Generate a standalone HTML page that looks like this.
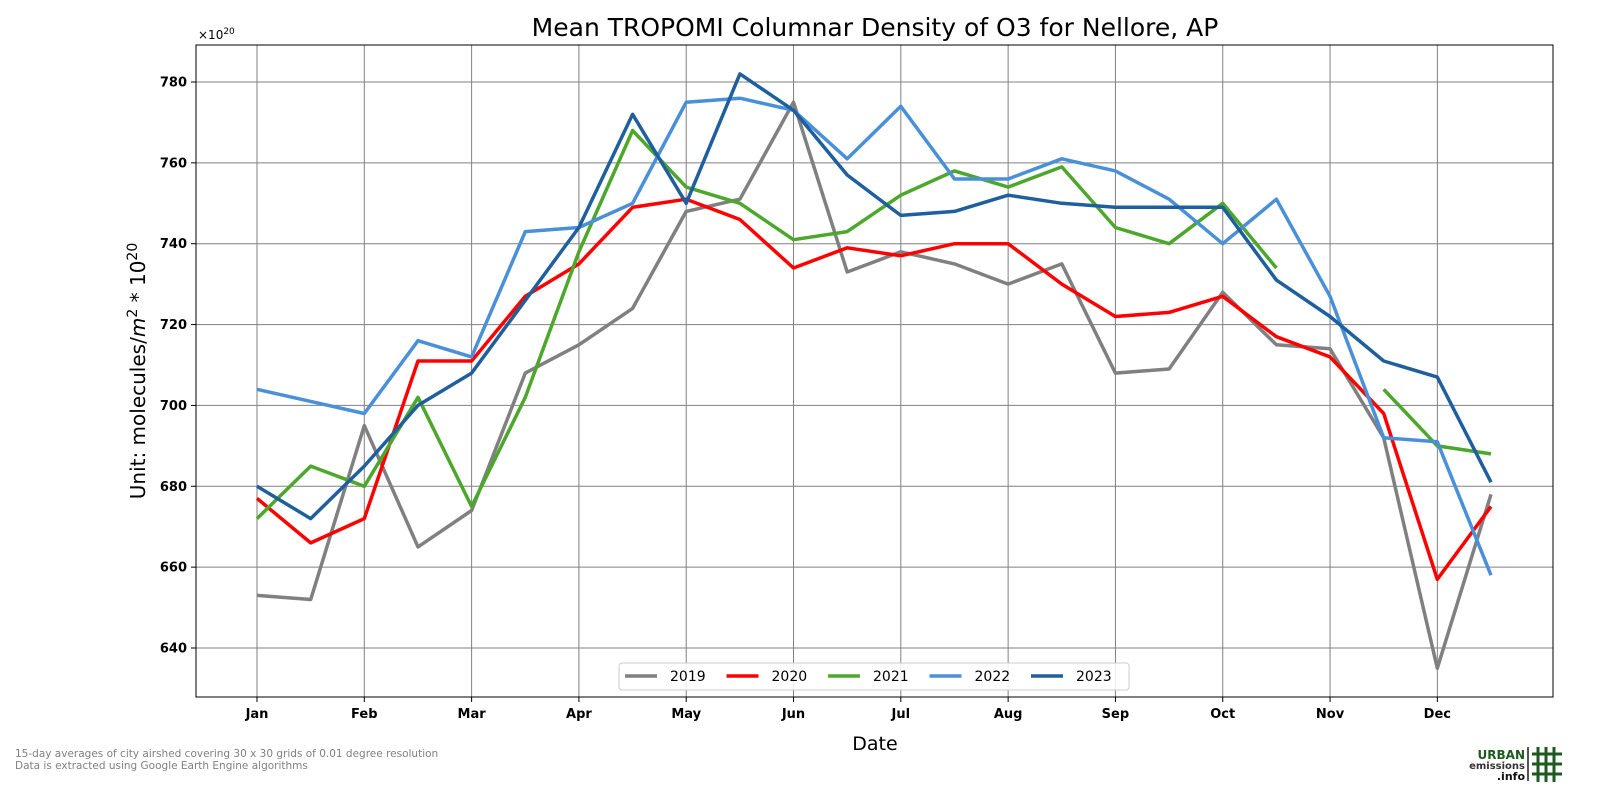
<!DOCTYPE html>
<html><head><meta charset="utf-8"><style>
body{margin:0;background:#fff;width:1600px;height:800px;overflow:hidden;font-family:"Liberation Sans","DejaVu Sans",sans-serif}
</style></head><body>
<svg id="c" width="1600" height="800" xmlns="http://www.w3.org/2000/svg" font-family="DejaVu Sans, Liberation Sans, sans-serif">
<text x="875" y="36" font-size="25" text-anchor="middle">Mean TROPOMI Columnar Density of O3 for Nellore, AP</text>
<text x="198" y="39" font-size="12">×10<tspan dy="-5" font-size="9">20</tspan></text>
<text transform="translate(145,371) rotate(-90)" font-size="20" text-anchor="middle">Unit: molecules/<tspan font-style="italic">m</tspan><tspan dy="-8" font-size="14">2</tspan><tspan dy="8"> * 10</tspan><tspan dy="-8" font-size="14">20</tspan></text>
<text x="875" y="750" font-size="19" text-anchor="middle">Date</text>
<text x="15" y="757" font-size="10.5" fill="#808080">15-day averages of city airshed covering 30 x 30 grids of 0.01 degree resolution</text>
<text x="15" y="769" font-size="10.5" fill="#808080">Data is extracted using Google Earth Engine algorithms</text>
<g>
<text x="1525" y="759" font-size="12" font-weight="bold" fill="#1e5a1e" text-anchor="end">URBAN</text>
<text x="1525" y="769" font-size="10" font-weight="bold" fill="#333" text-anchor="end">emissions</text>
<text x="1525" y="780" font-size="11" font-weight="bold" fill="#111" text-anchor="end">.info</text>
<rect x="1527" y="747" width="2" height="34" fill="#555"/>
<g stroke="#1e5a1e" stroke-width="3"><line x1="1538" y1="747" x2="1538" y2="782"/><line x1="1546" y1="747" x2="1546" y2="782"/><line x1="1554" y1="747" x2="1554" y2="782"/><line x1="1532" y1="754" x2="1562" y2="754"/><line x1="1532" y1="764" x2="1562" y2="764"/><line x1="1532" y1="774" x2="1562" y2="774"/></g>
</g>
<g id="grid"></g><g id="series"></g>
<rect x="196" y="45" width="1357" height="652" fill="none" stroke="#000" stroke-width="1"/>
<g id="legend"></g>
</svg>
<script>
const months=["Jan","Feb","Mar","Apr","May","Jun","Jul","Aug","Sep","Oct","Nov","Dec"];
const yTicks=[640,660,680,700,720,740,760,780];
const years=["2019","2020","2021","2022","2023"];
const colors=["#808080","#ff0000","#4ca72c","#4a90d9","#1f5f9e"];
const s2019=[653,652,695,665,674,708,715,724,748,751,775,733,738,735,730,735,708,709,728,715,714,692,635,678];
const s2020=[677,666,672,711,711,727,735,749,751,746,734,739,737,740,740,730,722,723,727,717,712,698,657,675];
const s2021=[672,685,680,702,675,702,738,768,754,750,741,743,752,758,754,759,744,740,750,734,null,704,690,688];
const s2022=[704,701,698,716,712,743,744,750,775,776,773,761,774,756,756,761,758,751,740,751,727,692,691,658];
const s2023=[680,672,685,700,708,726,744,772,750,782,773,757,747,748,752,750,749,749,749,731,722,711,707,681];
const series=[s2019,s2020,s2021,s2022,s2023];
const NS="http://www.w3.org/2000/svg";
const X=i=>257+i*(1491-257)/23;
const Y=v=>82+(780-v)*(648-82)/140;
function mk(t,a,p){const e=document.createElementNS(NS,t);for(const k in a)e.setAttribute(k,a[k]);p.appendChild(e);return e;}
const g=document.getElementById('grid');
months.forEach((m,i)=>{const x=X(i*2);
const l=mk('line',{x1:x,x2:x,y1:45,y2:697,stroke:'#808080','stroke-width':1},g);


mk('line',{x1:x,x2:x,y1:697,y2:702,stroke:'#000'},g);
const t=mk('text',{x:x,y:718,'font-size':13,'font-weight':'bold','text-anchor':'middle'},g);t.textContent=m;

});
yTicks.forEach(v=>{const y=Y(v);
const l=mk('line',{x1:196,x2:1553,y1:y,y2:y,stroke:'#808080','stroke-width':1},g);


mk('line',{x1:191,x2:196,y1:y,y2:y,stroke:'#000'},g);
const t=mk('text',{x:187,y:y+4.5,'font-size':13,'font-weight':'bold','text-anchor':'end'},g);t.textContent=v;

});
const sg=document.getElementById('series');
series.forEach((s,k)=>{let d='',pen=false;s.forEach((v,i)=>{if(v==null){pen=false;return;}d+=(pen?'L':'M')+X(i).toFixed(1)+','+Y(v).toFixed(1);pen=true;});
const p=mk('path',{d:d,fill:'none',stroke:colors[k],'stroke-width':3.5,'stroke-linejoin':'round'},sg);

});
const lg=document.getElementById('legend');
const fr=mk('rect',{x:619,y:663,width:510,height:27,rx:3,fill:'#fff',stroke:'#ccc','fill-opacity':0.85},lg);


years.forEach((yr,k)=>{const x0=625+k*101.5;
const e=mk('g',{},lg);


mk('line',{x1:x0,x2:x0+32,y1:676,y2:676,stroke:colors[k],'stroke-width':3.5},e);
const t=mk('text',{x:x0+45,y:681,'font-size':14},e);t.textContent=yr;});
</script>
</body></html>
